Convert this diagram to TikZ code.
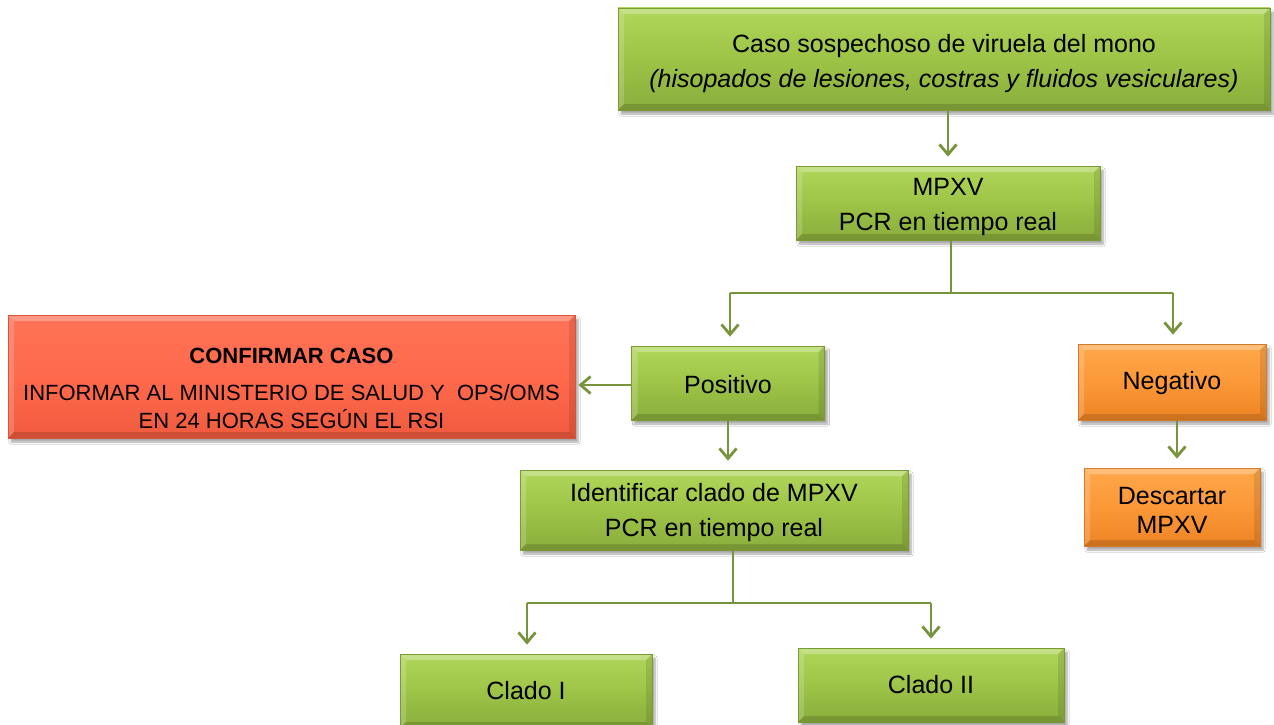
\documentclass[tikz,border=0pt]{standalone}
\usepackage{fontspec}
\setmainfont{Liberation Sans}
\usetikzlibrary{arrows.meta,shadows.blur,calc}
\definecolor{gtop}{HTML}{B0D65A}
\definecolor{gmid}{HTML}{9DC347}
\definecolor{gbot}{HTML}{8AAE3C}
\definecolor{gline}{HTML}{7A9A36}
\definecolor{rtop}{HTML}{FF7256}
\definecolor{rmid}{HTML}{FF6A4D}
\definecolor{rbot}{HTML}{F05A3E}
\definecolor{rline}{HTML}{D8553C}
\definecolor{otop}{HTML}{FFA84A}
\definecolor{omid}{HTML}{FB9838}
\definecolor{obot}{HTML}{EE8424}
\definecolor{oline}{HTML}{D57A2C}
\definecolor{arrc}{HTML}{77933C}
\tikzset{
  x=1pt, y=-1pt,
  bevel/.style={path picture={
    \fill[white, opacity=0.28] (path picture bounding box.north west) -- (path picture bounding box.north east)
      -- ++(-6pt,-6pt) -- ($(path picture bounding box.north west)+(6pt,-6pt)$) -- cycle;
    \fill[white, opacity=0.18] (path picture bounding box.north west) -- ($(path picture bounding box.north west)+(6pt,-6pt)$)
      -- ($(path picture bounding box.south west)+(6pt,6pt)$) -- (path picture bounding box.south west) -- cycle;
    \fill[black, opacity=0.14] (path picture bounding box.south west) -- (path picture bounding box.south east)
      -- ++(-6pt,6pt) -- ($(path picture bounding box.south west)+(6pt,6pt)$) -- cycle;
    \fill[black, opacity=0.10] (path picture bounding box.north east) -- ($(path picture bounding box.north east)+(-6pt,-6pt)$)
      -- ($(path picture bounding box.south east)+(-6pt,6pt)$) -- (path picture bounding box.south east) -- cycle;
  }},
  basebox/.style={rectangle, align=center, inner sep=2pt, text=black,
    font=\fontsize{25}{35}\selectfont, line width=0.8pt, bevel,
    blur shadow={shadow xshift=3pt, shadow yshift=-4pt, shadow blur steps=6, shadow opacity=35}},
  greenbox/.style={basebox, draw=gline, top color=gtop, bottom color=gbot, middle color=gmid},
  redbox/.style={basebox, draw=rline, top color=rtop, bottom color=rbot, middle color=rmid},
  orangebox/.style={basebox, draw=oline, top color=otop, bottom color=obot, middle color=omid},
  redtext/.style={align=center, text=black, font=\fontsize{22}{28}\selectfont, inner sep=0pt},
  conn/.style={draw=arrc, line width=2.8pt},
  arr/.style={conn, -{Straight Barb[length=10pt, width=17pt, line width=2.8pt]}, shorten >=9pt},
}
\begin{document}
\begin{tikzpicture}
\useasboundingbox (0,0) rectangle (1274,725);
\fill[white] (0,0) rectangle (1274,725);

\node[greenbox, minimum width=652pt, minimum height=102pt] (top) at (944,59)
  {\rule{0pt}{27pt}Caso sospechoso de viruela del mono\\\textit{(hisopados de lesiones, costras y fluidos vesiculares)}};
\node[greenbox, minimum width=304pt, minimum height=74pt] (mpxv) at (948,203)
  {\rule{0pt}{25pt}MPXV\\PCR en tiempo real};
\node[greenbox, minimum width=193pt, minimum height=74pt] (pos) at (728,383) {\rule{0pt}{21pt}Positivo};
\node[orangebox, minimum width=188pt, minimum height=76pt] (neg) at (1172,382) {\rule{0pt}{21pt}Negativo};
\node[redbox, minimum width=567pt, minimum height=123pt] (conf) at (291.5,376.5) {};
\node[redtext] (conft) at (291.5,388)
  {\textbf{CONFIRMAR CASO}\\[9pt]INFORMAR AL MINISTERIO DE SALUD Y\ \ OPS/OMS\\EN 24 HORAS SEGÚN EL RSI};
\node[greenbox, minimum width=388pt, minimum height=80pt] (ide) at (714,510)
  {\rule{0pt}{23pt}Identificar clado de MPXV\\PCR en tiempo real};
\node[orangebox, minimum width=176pt, minimum height=78pt, font=\fontsize{25}{29}\selectfont] (desc) at (1172,507)
  {\rule{0pt}{24pt}Descartar\\MPXV};
\node[greenbox, minimum width=252pt, minimum height=74pt] (c1) at (526,691) {Clado I};
\node[greenbox, minimum width=266pt, minimum height=74pt] (c2) at (931,685) {Clado II};

% connectors
\draw[arr] (top.south -| mpxv.north) -- (mpxv.north);

\coordinate (j1) at ($(mpxv.south)+(3,53)$);
\coordinate (j1l) at (730,293);
\coordinate (j1r) at (1173,293);
\draw[conn] (mpxv.south -| j1) -- (j1);
\draw[conn] (j1l) -- (j1r);
\draw[arr] (j1l) -- (j1l |- pos.north);
\draw[arr] (j1r) -- (j1r |- neg.north);

\coordinate (pw) at ($(pos.west)+(0,2)$);
\draw[arr, shorten >=3pt] (pw) -- (pw -| conf.east);
\draw[arr] (pos.south) -- (pos.south |- ide.north);
\coordinate (nb) at ($(neg.south)+(5,0)$);
\draw[arr] (nb) -- (nb |- desc.north);

\coordinate (j2) at (733,603);
\coordinate (j2l) at (527,603);
\coordinate (j2r) at (931,603);
\draw[conn] (ide.south -| j2) -- (j2);
\draw[conn] (j2l) -- (j2r);
\draw[arr] (j2l) -- (j2l |- c1.north);
\draw[arr] (j2r) -- (j2r |- c2.north);
\end{tikzpicture}
\end{document}
